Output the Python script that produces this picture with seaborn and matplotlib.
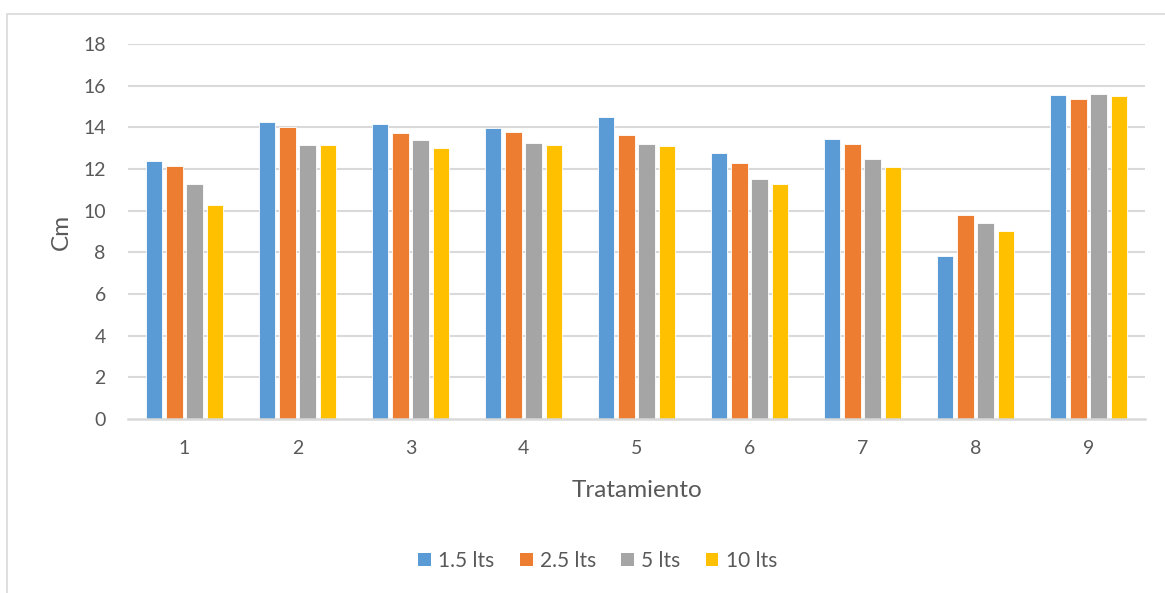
import matplotlib
matplotlib.use("Agg")
import matplotlib.pyplot as plt
from matplotlib.patches import Rectangle, Patch
import seaborn as sns
import pandas as pd

# Plant height (cm) by treatment and water volume
tratamientos = ["1", "2", "3", "4", "5", "6", "7", "8", "9"]
series = ["1.5 lts", "2.5 lts", "5 lts", "10 lts"]
v_1_5 = [12.38, 14.24, 14.17, 13.96, 14.51, 12.78, 13.46, 7.84, 15.54]
v_2_5 = [12.13, 14.03, 13.73, 13.77, 13.63, 12.28, 13.20, 9.80, 15.36]
v_5 = [11.26, 13.16, 13.37, 13.25, 13.21, 11.50, 12.48, 9.39, 15.59]
v_10 = [10.27, 13.13, 13.01, 13.16, 13.10, 11.26, 12.11, 9.01, 15.50]
y_ticks = [0, 2, 4, 6, 8, 10, 12, 14, 16, 18]

colors = ["#5B9BD5", "#ED7D31", "#A5A5A5", "#FFC000"]
text_color = "#595959"
grid_color = "#D9D9D9"

rows = []
for name, vals in zip(series, [v_1_5, v_2_5, v_5, v_10]):
    for t, v in zip(tratamientos, vals):
        rows.append({"Tratamiento": t, "Serie": name, "Cm": v})
df = pd.DataFrame(rows)

sns.set_theme(style="white")
plt.rcParams["font.family"] = ["Lato", "DejaVu Sans"]

W, H = 1165, 593
fig = plt.figure(figsize=(W / 100, H / 100), dpi=100)
ax = fig.add_axes([128 / W, 1 - 419 / H, (1145 - 128) / W, (419 - 44) / H])

sns.barplot(data=df, x="Tratamiento", y="Cm", hue="Serie",
            order=tratamientos, hue_order=series, palette=colors,
            width=0.72, gap=0.18, saturation=1, ax=ax,
            edgecolor="white", linewidth=0.6, legend=False)

ax.set_xlim(-0.5, len(tratamientos) - 0.5)
ax.set_ylim(0, 18)
ax.set_yticks(y_ticks)
ax.set_yticklabels([str(t) for t in y_ticks])
for t in y_ticks[1:]:
    ax.axhline(t, color=grid_color, lw=1.5, zorder=0)

for s in ["top", "right", "left"]:
    ax.spines[s].set_visible(False)
ax.spines["bottom"].set_color(grid_color)
ax.spines["bottom"].set_linewidth(1.8)

ax.tick_params(axis="both", length=0, colors=text_color, labelsize=14)
ax.tick_params(axis="y", pad=16)
ax.tick_params(axis="x", pad=15)

ax.set_xlabel("Tratamiento", fontsize=17.5, color=text_color, labelpad=17)
ax.set_ylabel("Cm", fontsize=17.5, color=text_color, labelpad=8)

handles = [Patch(facecolor=c, edgecolor="none") for c in colors]
fig.legend(handles, series, loc="center", bbox_to_anchor=(0.513, 1 - 561 / H),
           ncol=4, frameon=False, fontsize=15, labelcolor=text_color,
           handlelength=0.62, handleheight=0.62, handletextpad=0.35,
           columnspacing=1.2)

# chart area border
fig.patches.append(Rectangle((7 / W, -0.02), 1.2, 1 - 14 / H + 0.02,
                             transform=fig.transFigure, fill=False,
                             edgecolor=grid_color, lw=1.2))

fig.savefig("out.png", dpi=100, facecolor="white")
